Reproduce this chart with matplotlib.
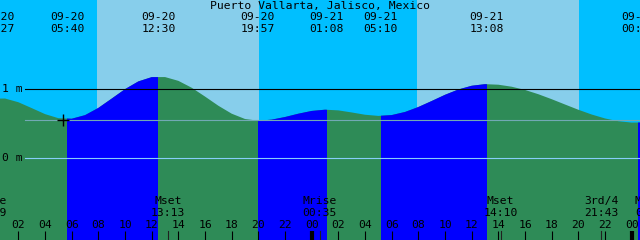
import numpy as np
import matplotlib.pyplot as plt
from matplotlib.transforms import blended_transform_factory

# hourly water level (m), hours counted from 09-20 00:00
hours = list(range(0, 50))
tide_m = [0.860, 0.862, 0.808, 0.723, 0.636, 0.577, 0.569, 0.621, 0.726, 0.861,
          0.998, 1.110, 1.172, 1.173, 1.118, 1.018, 0.890, 0.757, 0.642, 0.565,
          0.540, 0.556, 0.594, 0.642, 0.682, 0.700, 0.690, 0.660, 0.627, 0.610,
          0.622, 0.667, 0.739, 0.826, 0.916, 0.993, 1.047, 1.070, 1.062, 1.033,
          0.986, 0.924, 0.852, 0.775, 0.699, 0.630, 0.573, 0.533, 0.513, 0.515]

tide_kind = ['H', 'L', 'H', 'L', 'H', 'L', 'H', 'L']
tide_date = ['09-20', '09-20', '09-20', '09-20', '09-21', '09-21', '09-21', '09-22']
tide_time = ['00:27', '05:40', '12:30', '19:57', '01:08', '05:10', '13:08', '00:30']

sun_date = ['09-20', '09-20', '09-21', '09-21']
sun_time = ['07:54', '20:01', '07:54', '20:02']   # rise, set, rise, set

moon_label = ['Mrise', 'Mset', 'Mrise', 'Mset', '3rd/4', 'Mrise']
moon_date = ['09-19', '09-20', '09-21', '09-21', '09-21', '09-22']
moon_time = ['23:49', '13:13', '00:35', '14:10', '21:43', '01:31']

msl = 0.551
now_h = 5.35
title = 'Puerto Vallarta, Jalisco, Mexico'

T0, T1 = 0.62, 48.62
W, H = 640, 240
PX_M = 69.0
YTOP = 158 / PX_M
YBOT = -(H - 158) / PX_M

SKY_DAY = '#87CEEB'
SKY_NIGHT = '#00BFFF'
EBB = '#2E8B57'
FLOOD = '#0000FF'
FONT = dict(family='DejaVu Sans Mono', size=8.2, color='black')


def to_h(d, t):
    day = int(d[3:]) - 20
    hh, mm = t.split(':')
    return day * 24 + int(hh) + int(mm) / 60


def ypix(p):
    return 1 - p / H


tide_h = [to_h(d, t) for d, t in zip(tide_date, tide_time)]
sun_h = [to_h(d, t) for d, t in zip(sun_date, sun_time)]
moon_h = [to_h(d, t) for d, t in zip(moon_date, moon_time)]

fig = plt.figure(figsize=(W / 100, H / 100), dpi=100)
ax = fig.add_axes([0, 0, 1, 1])
ax.set_xlim(T0, T1)
ax.set_ylim(YBOT, YTOP)
ax.axis('off')
tr = blended_transform_factory(ax.transData, ax.transAxes)
tr2 = blended_transform_factory(ax.transAxes, ax.transData)

# sky
ax.axvspan(T0 - 5, T1 + 5, color=SKY_NIGHT, lw=0, zorder=0)
for a, b in zip(sun_h[0::2], sun_h[1::2]):
    ax.axvspan(a, b, color=SKY_DAY, lw=0, zorder=0.5)

# water: ebb colour everywhere, flood spans clipped to the water
water = ax.fill_between(hours, tide_m, YBOT - 1, color=EBB, lw=0, zorder=1)
wpath = water.get_paths()[0]
for i, k in enumerate(tide_kind):
    if k != 'L':
        continue
    a = tide_h[i]
    b = tide_h[i + 1] if i + 1 < len(tide_h) else T1 + 5
    r = ax.axvspan(a, b, color=FLOOD, lw=0, zorder=1.5)
    r.set_clip_path(wpath, ax.transData)

# level lines
x0 = 25 / W
ax.axhline(1.0, xmin=x0, color='black', lw=0.8, zorder=2)
ax.axhline(msl, xmin=x0, color='#72A9B4', lw=0.8, zorder=2)
ax.axhline(0.0, xmin=x0, color='#87CEFA', lw=0.8, zorder=2)
ax.text(2 / W, 1.0, '1 m', transform=tr2, ha='left', va='center', **FONT)
ax.text(2 / W, 0.0, '0 m', transform=tr2, ha='left', va='center', **FONT)
ax.plot(now_h, msl, marker='+', ms=9, mew=1, color='black', zorder=3)

# top labels
ax.text(0.5, ypix(6), title, transform=ax.transAxes, ha='center', va='center', **FONT)
for h, d, t in zip(tide_h, tide_date, tide_time):
    ax.text(h, ypix(17.5), d, transform=tr, ha='center', va='center', **FONT)
    ax.text(h, ypix(29), t, transform=tr, ha='center', va='center', **FONT)

# moon events
for h, lab, t in zip(moon_h, moon_label, moon_time):
    ax.text(h, ypix(201), lab, transform=tr, ha='center', va='center', **FONT)
    ax.text(h, ypix(213), t, transform=tr, ha='center', va='center', **FONT)
    ax.plot([h, h], [0, 9 / H], transform=tr, color='#202020', lw=0.8, zorder=3)

# hour ticks
for h in range(2, 49, 2):
    lab = '%02d' % (h % 24)
    ax.text(h, ypix(225), lab, transform=tr, ha='center', va='center', **FONT)
    lw = 3 if h % 24 == 0 else 0.8
    ax.plot([h, h], [0, 9 / H], transform=tr, color='black', lw=lw,
            solid_capstyle='butt', zorder=3)

fig.savefig('out.png', dpi=100)
